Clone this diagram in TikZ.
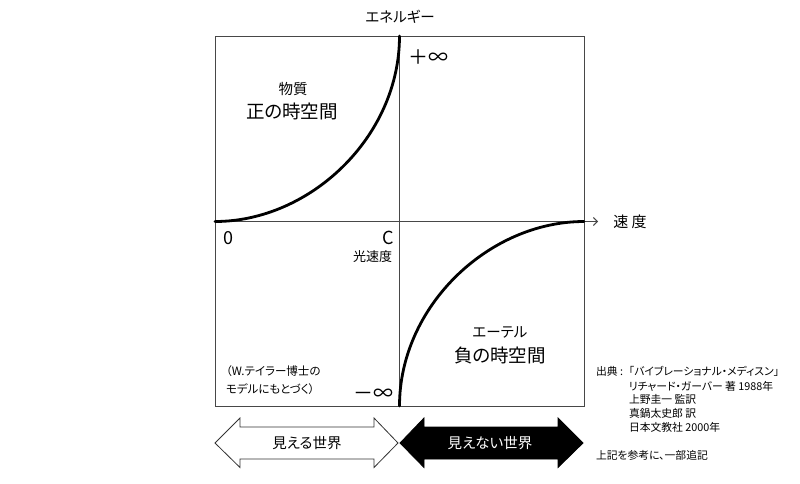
\documentclass[tikz,border=0pt]{standalone}
\usepackage{fontspec}
\setmainfont{Noto Sans CJK JP}[RawFeature=+palt]
\newfontfamily\jpfull{Noto Sans CJK JP}
\usetikzlibrary{arrows.meta}
\begin{document}
\begin{tikzpicture}[x=1pt,y=-1pt,
  frame/.style={draw=black!72, line width=0.9pt},
  curve/.style={line width=2.8pt, line cap=round},
  lbl/.style={inner sep=0pt, outer sep=0pt},
  fs/.style={font=\fontsize{#1}{#1}\selectfont},
  src/.style={lbl, anchor=west, fs=10.8},
  hollow/.style={draw=black!80, line width=0.8pt, fill=white},
  solid/.style={draw=black, line width=0.8pt, fill=black},
]
\useasboundingbox (0,0) rectangle (800,483);
% frame and axes
\coordinate (top) at (399.5,36);
\coordinate (bot) at (399.5,406);
\coordinate (left) at (215,221.5);
\coordinate (right) at (584,221.5);
\coordinate (axend) at (598,221.5);
\draw[frame] (215,36) rectangle (584,406);
\draw[frame] (top) -- (bot);
\draw[frame,-{Straight Barb[length=4pt,width=8pt]}] (left) -- (axend);
% curves
\draw[curve] (left) .. controls (310,221.5) and (399.5,137) .. (top);
\draw[curve] (right) .. controls (489,221.5) and (399.5,306) .. (bot);
% labels
\node[lbl, fs=14.5] (energy) at (400,17) {エネルギー};
\node[lbl, fs=15] (speed) at (630,221.5) {速 度};
\node[lbl, fs=20] (pinf) at (428,57) {＋∞};
\node[lbl, fs=20] (minf) at (373,395) {－∞};
\node[lbl, fs=14.5] (matter) at (293,89) {物質};
\node[lbl, fs=18.5] (pos) at (292,111) {正の時空間};
\node[lbl, fs=14.5] (ether) at (500,332) {エーテル};
\node[lbl, fs=18.5] (neg) at (500,355) {負の時空間};
\node[lbl, fs=18] (zero) at (228,238) {0};
\node[lbl, fs=18] (c) at (388,238) {C};
\node[lbl, fs=13, anchor=east] (light) at (392,257) {光速度};
\node[lbl, fs=11.5, anchor=west] (tay1) at (226,371) {（W.テイラー博士の};
\node[lbl, fs=11.5, anchor=west] (tay2) at (226,389) {モデルにもとづく）};
% source
\node[src] (s1) at (596,371.5) {出典 :};
\node[src, anchor=base west] (s1b) at ([xshift=0.5pt]s1.base east) {{\jpfull 「}バイブレーショナル・メディスン」};
\node[src] (s2) at (629,386) {リチャード・ガーバー 著 1988年};
\node[src] (s3) at (629,399.5) {上野圭一 監訳};
\node[src] (s4) at (629,413) {真鍋太史郎 訳};
\node[src] (s5) at (629,427) {日本文教社 2000年};
\node[src] (s6) at (596,455) {上記を参考に、一部追記};
% bottom arrows
\draw[hollow] (215,443) -- (240,418) -- (240,427) -- (374,427) -- (374,418) -- (398,443)
  -- (374,467.5) -- (374,459) -- (240,459) -- (240,467.5) -- cycle;
\draw[solid] (400,443) -- (424,418) -- (424,427) -- (558,427) -- (558,418) -- (583,443)
  -- (558,467.5) -- (558,459) -- (424,459) -- (424,467.5) -- cycle;
\node[lbl, fs=14.5] (vis) at (307,443) {見える世界};
\node[lbl, fs=14.5, text=white] (invis) at (490,443) {見えない世界};
\end{tikzpicture}
\end{document}
